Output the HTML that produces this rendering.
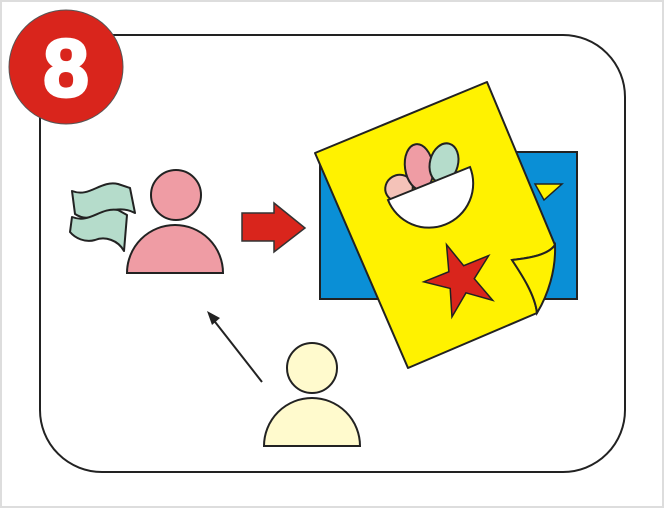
<!DOCTYPE html>
<html><head><meta charset="utf-8"><style>
body{margin:0;background:#fff}
svg{display:block}
</style></head><body>
<svg width="664" height="508" viewBox="0 0 664 508" xmlns="http://www.w3.org/2000/svg">
<rect x="1" y="1" width="662" height="506" fill="#fff" stroke="#ddd" stroke-width="2"/>
<rect x="40" y="35" width="585" height="437" rx="62" fill="#fff" stroke="#222" stroke-width="2"/>
<g>
<circle cx="66" cy="67" r="57" fill="#d9251c" stroke="#555" stroke-width="1"/>
<text x="66" y="96" text-anchor="middle" font-family="Liberation Sans, sans-serif" font-weight="bold" font-size="82" fill="#fff" stroke="#fff" stroke-width="3">8</text>
</g>
<g stroke="#222" stroke-width="2" fill="#b5dccb" stroke-linejoin="round">
<path d="M72 191 C90 198 100 180 118 184 L130 188 L135 213 C120 205 108 212 95 216 C85 220 78 216 75 214 Z"/>
<path d="M72 217 C90 224 100 207 118 210 L127 215 L124 251 C118 240 105 236 95 240 C85 243 75 238 70 232 Z"/>
</g>
<g fill="#ef9ca4" stroke="#222" stroke-width="2">
<circle cx="176" cy="195" r="25"/>
<path d="M127 273 A48 48 0 0 1 223 273 Z"/>
</g>
<path d="M242 213 L274 213 L274 203 L305 228 L274 252 L274 241 L242 241 Z" fill="#d9251c" stroke="#333" stroke-width="1.5"/>
<g>
<rect x="320" y="152" width="257" height="147" fill="#0a8fd6" stroke="#222" stroke-width="2"/>
<path d="M535 184 L562 184 L544 200 Z" fill="#fff200" stroke="#222" stroke-width="1.5"/>
<path d="M315 153 L487 82 L555 245 C548 255 530 258 512 260 C522 275 535 295 537 313 L408 368 Z" fill="#fff200" stroke="#222" stroke-width="2" stroke-linejoin="round"/>
<path d="M512 260 C530 258 548 255 555 245 C556 270 548 295 537 313 C535 295 522 275 512 260 Z" fill="#fff200" stroke="#222" stroke-width="2"/>
<g stroke="#222" stroke-width="2">
<ellipse cx="399" cy="188" rx="14" ry="13" fill="#f4c2b8" transform="rotate(-30 399 188)"/>
<ellipse cx="419" cy="167" rx="14" ry="23" fill="#ef9ca4" transform="rotate(-8 419 167)"/>
<ellipse cx="444" cy="163" rx="14" ry="20" fill="#b5dccb" transform="rotate(15 444 163)"/>
<path d="M388 200 L470 167 A44 44 0 0 1 388 200 Z" fill="#fff"/>
</g>
<polygon points="460,242 468,268 495,268 473,284 482,311 460,294 438,311 447,284 425,268 452,268" transform="rotate(-22 460 278)" fill="#d9251c" stroke="#222" stroke-width="1.5"/>
</g>
<g>
<line x1="262" y1="382" x2="212" y2="318" stroke="#222" stroke-width="2"/>
<path d="M207 311 L220 318 L212 325 Z" fill="#222"/>
</g>
<g fill="#fffacd" stroke="#222" stroke-width="2">
<circle cx="312" cy="368" r="25"/>
<path d="M264 446 A48 48 0 0 1 360 446 Z"/>
</g>
</svg>
</body></html>
